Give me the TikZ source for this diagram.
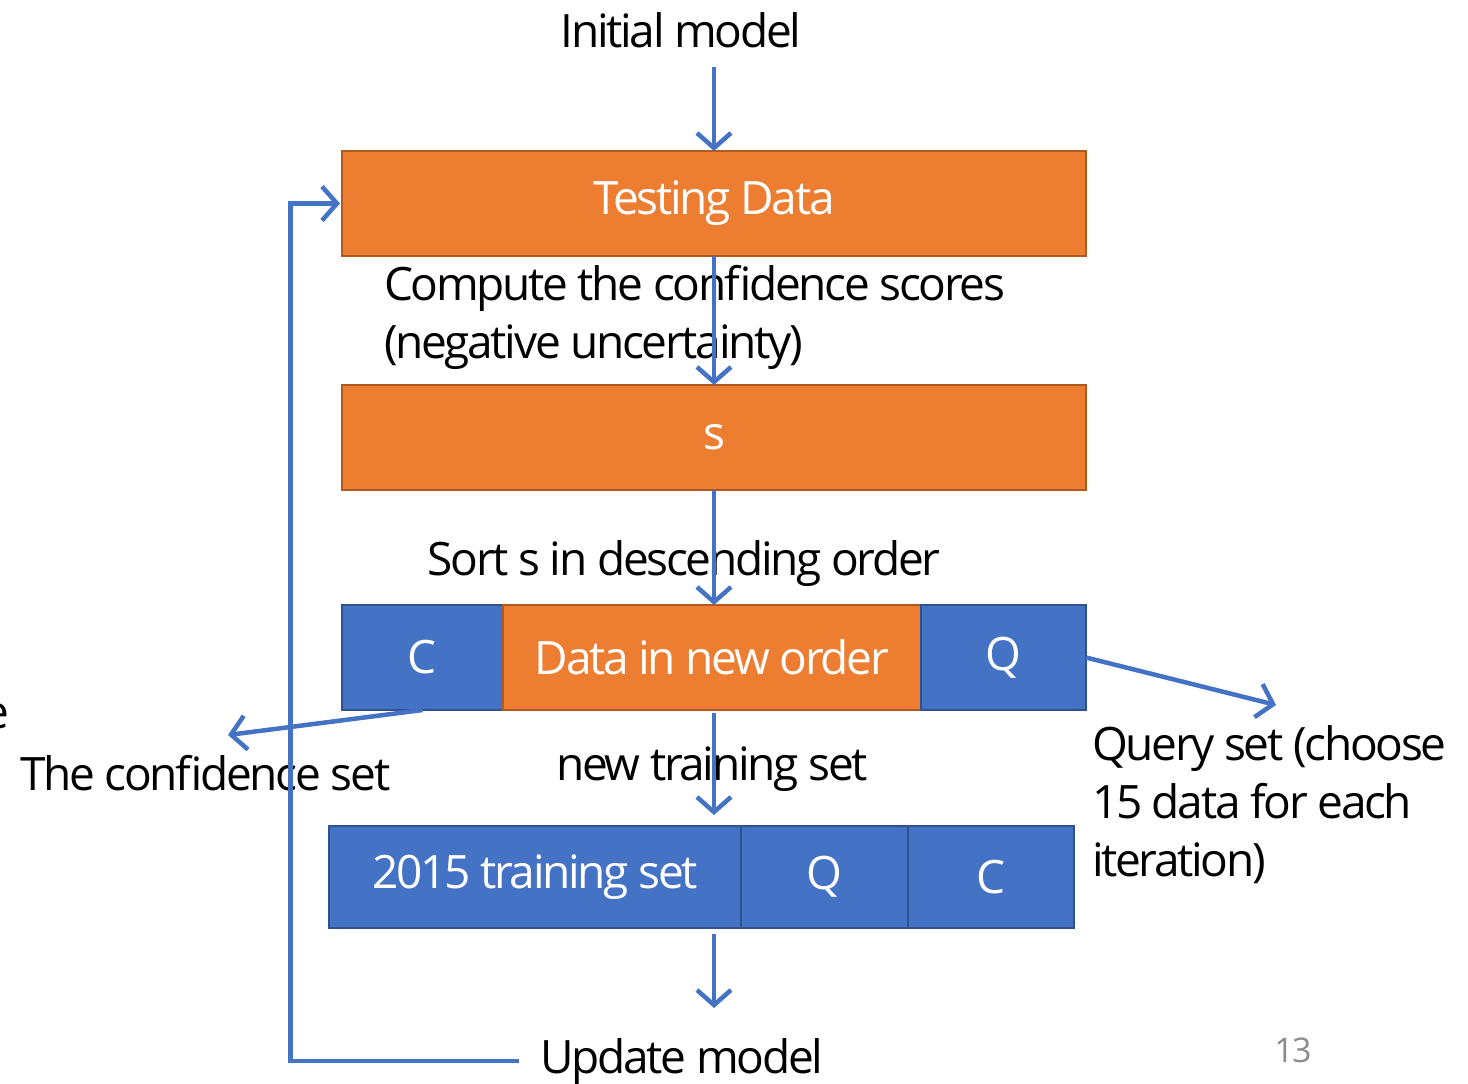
\documentclass[tikz,border=0pt]{standalone}
\usepackage{fontspec}
\setmainfont{Open Sans}[LetterSpace=-5]
\usetikzlibrary{arrows.meta, positioning, calc}
\definecolor{orng}{HTML}{ED7D31}
\definecolor{orngline}{HTML}{AE5A21}
\definecolor{blu}{HTML}{4472C4}
\definecolor{bluline}{HTML}{2F528F}
\definecolor{pgnum}{HTML}{8C8C8C}

\begin{document}
\begin{tikzpicture}[
        x=1pt, y=-1pt,
        every node/.style={font=\fontsize{46}{58}\selectfont, inner sep=0pt, outer sep=0pt},
        obox/.style={draw=orngline, line width=2pt, fill=orng, text=white, minimum height=105pt, anchor=north west},
        bbox/.style={draw=bluline, line width=2pt, fill=blu, text=white, minimum height=105pt, anchor=north west},
        flow/.style={draw=blu, line width=4.5pt, -{Straight Barb[length=15pt, width=34pt, line width=4.5pt]}}
    ]
        \useasboundingbox (0,0) rectangle (1468,1084);

        % Kasten
        \node [obox, minimum width=744pt] (test) at (342,151) {Testing Data};
        \node [obox, minimum width=744pt] (s) at (342,385) {s};
        \node [bbox, minimum width=161pt] (c1) at (342,605) {C};
        \node [obox, minimum width=418pt] (dno) at (503,605) {Data in new order};
        \node [bbox, minimum width=165pt] (q1) at (921,605) {Q};
        \node [bbox, minimum width=412pt, minimum height=102pt] (trn) at (329,826) {2015 training set};
        \node [bbox, minimum width=167pt, minimum height=102pt] (q2) at (741,826) {Q};
        \node [bbox, minimum width=166pt, minimum height=102pt] (c2) at (908,826) {C};

        % Texte
        \node [anchor=base] (init) at (681,47) {Initial model};
        \node [anchor=base west, align=left] (comp) at (384,358) {Compute the confidence scores\\(negative uncertainty)};
        \node [anchor=base] (sort) at (684,575) {Sort s in descending order};
        \node [anchor=base] (newtr) at (712,780) {new training set};
        \node [anchor=base west] (cset) at (20,790) {The confidence set};
        \node [anchor=base west, align=left] (qset) at (1092,876) {Query set (choose\\15 data for each\\iteration)};
        \node [anchor=base] (upd) at (682,1073) {Update model};
        \node [anchor=base, text=pgnum, font=\fontsize{34}{40}\selectfont] (pg) at (1293,1062) {13};
        \node [anchor=base east] (cute) at (9,728) {e};
        \node [anchor=base east] (cutdot) at (4,252) {.};

        % Pfeile
        \coordinate (cend) at (228,735);
        \coordinate (qend) at (1276,705);
        \draw[flow] ($(init.south -| test.north)+(0,20)$) -- (test.north);
        \draw[flow] (test.south) -- (s.north);
        \draw[flow] (s.south) -- (s.south |- dno.north);
        \draw[flow] ($(s.south |- dno.south)+(0,3)$) -- ($(s.south |- trn.north)+(0,-11)$);
        \draw[flow] ($(s.south |- trn.south)+(0,6)$) -- ($(s.south |- trn.south)+(0,80)$);
        \draw[flow] (c1.south) -- (cend);
        \draw[flow] (q1.east) -- (qend);
        \draw[flow] ($(upd.west)+(-22,0)$) -- ($(upd.west)+(-250,0)$) |- ($(test.west)+(-2,0)$);
    \end{tikzpicture}
\end{document}
